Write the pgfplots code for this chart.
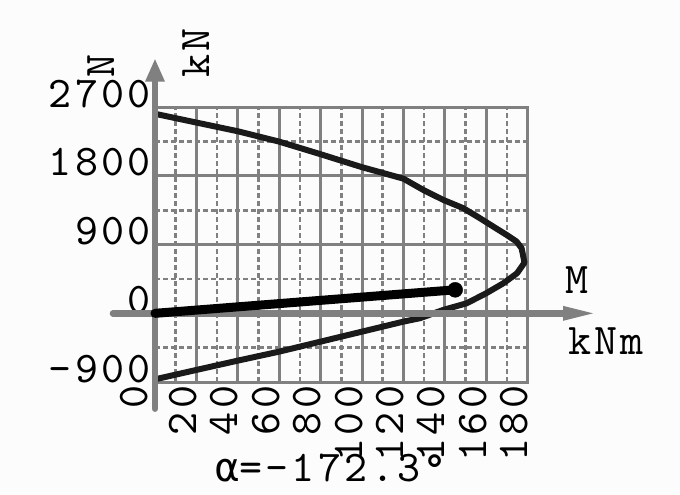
\documentclass[border=0pt]{standalone}
\usepackage{fontspec}
\usepackage{pgfplots}
\pgfplotsset{compat=1.18}
\usetikzlibrary{arrows.meta}
\newfontfamily\tfont[LetterSpace=7.7]{lmmono10-regular.otf}
\newfontfamily\dvmono{DejaVu Sans Mono}
\definecolor{ax}{HTML}{808080}
\definecolor{crv}{HTML}{1A1A1A}
\definecolor{bg}{HTML}{FCFCFC}
\newcommand{\bigf}{\tfont\fontsize{44}{44}\selectfont}
\begin{document}
\begin{tikzpicture}
\fill[bg] (-155bp,-113bp) rectangle (525bp,382bp);
\useasboundingbox (-155bp,-113bp) rectangle (525bp,382bp);
\begin{axis}[
  at={(0,0)}, anchor=south west,
  scale only axis, width=372.6bp, height=274.7bp,
  xmin=0, xmax=180, ymin=-900, ymax=2700,
  xtick={20,40,60,80,100,120,140,160,180},
  xticklabels={20,40,60,80,100,120,140,160,180},
  extra x ticks={0}, extra x tick labels={0},
  extra x tick style={xticklabel style={yshift=7bp}},
  ytick={-900,0,900,1800,2700},
  yticklabels={\textendash900,0,900,1800,2700},
  minor xtick={10,30,50,70,90,110,130,150,170},
  minor ytick={-450,450,1350,2250},
  grid=both,
  major grid style={draw=ax, line width=3bp},
  minor grid style={draw=ax, line width=2.5bp, dash pattern=on 5bp off 3bp},
  axis line style={draw=ax, line width=3bp},
  major tick length=0pt, minor tick length=0pt,
  tick label style={font=\bigf, inner sep=0pt},
  yticklabel style={anchor=base east, xshift=-4bp},
  xticklabel style={yshift=-3.5bp, rotate=90, anchor=base east},
  clip=false,
]
\addplot[crv, line width=6bp, line join=round] coordinates {
(0,2615) (20,2500) (40,2386) (60,2250) (80,2085) (100,1915) (120,1765)
(129.6,1617) (139.3,1486) (149,1377) (157,1246) (163.4,1137) (169.9,1027)
(174.7,940) (177.1,853) (178.5,665) (174.9,525) (168.3,394) (160,263)
(150.6,132) (139.3,45) (128,-64) (120,-109) (100,-240) (80,-371)
(60,-502) (40,-620) (20,-742) (0,-865)};
\draw[ax, line width=6.5bp, line cap=round] (axis cs:-20.3,0) -- (axis cs:200,0);
\fill[ax] (axis cs:211.6,0) -- ++(-30bp,7.5bp) -- ++(0bp,-15bp) -- cycle;
\draw[ax, line width=6.5bp, line cap=round] (axis cs:0,-1250) -- (axis cs:0,3100);
\fill[ax] (axis cs:0,3330) -- ++(-10bp,-22.4bp) -- ++(20bp,0bp) -- cycle;
\addplot[black, line width=9bp, line cap=round] coordinates {(0,0) (145,308)};
\addplot[black, only marks, mark=*, mark size=7.5bp] coordinates {(145,308)};
\node[font=\bigf, rotate=90, inner sep=0pt] at (axis cs:-26.1,3242) {N};
\node[font=\bigf, rotate=90, inner sep=0pt] at (axis cs:19.8,3412) {kN};
\node[font=\bigf, anchor=base west, inner sep=0pt] at (axis cs:198,265) {M};
\node[font=\bigf, anchor=base west, inner sep=0pt] at (axis cs:199.5,-545) {kNm};
\node[font=\bigf, anchor=base west, inner sep=0pt] at (axis cs:29,-2206) {{\dvmono\fontsize{40}{40}\selectfont α}=\textendash172.3°};
\end{axis}
\end{tikzpicture}
\end{document}
